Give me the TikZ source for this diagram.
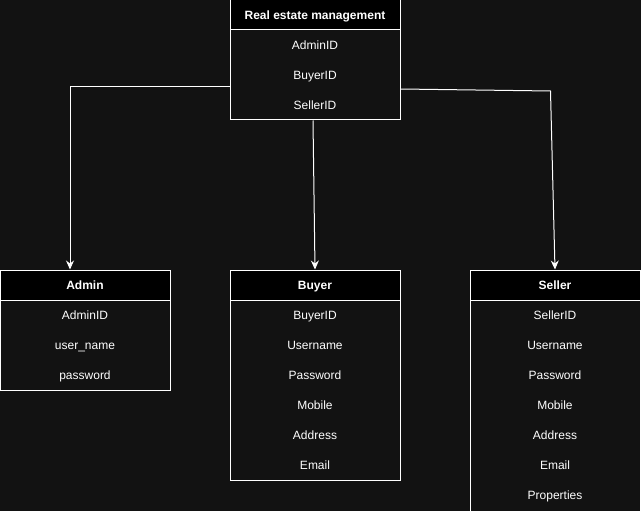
\documentclass[tikz,border=0pt]{standalone}
\usepackage{fontspec}
\setmainfont{Liberation Sans}
\usetikzlibrary{arrows.meta}
\definecolor{bg}{RGB}{18,18,18}
\tikzset{
  hdr/.style={draw=white, fill=black, text=white, font=\bfseries\fontsize{12}{14}\selectfont,
    minimum width=170pt, minimum height=30pt, inner sep=0pt, line width=1pt,
    text height=10pt, text depth=1pt},
  tbody/.style={draw=white, fill=bg, minimum width=170pt, inner sep=0pt, line width=1pt},
  fld/.style={text=white, font=\fontsize{12}{14}\selectfont, inner sep=0pt,
    text height=10pt, text depth=1pt},
  conn/.style={draw=white, line width=1pt, -{Stealth[length=9pt,width=8pt,inset=3pt]}}
}
\begin{document}
\begin{tikzpicture}[x=1pt,y=-1pt]
\clip (0,0) rectangle (641,511);
\fill[bg] (0,0) rectangle (641,511);
% Real estate management
\node[tbody, minimum height=90pt] (rembody) at (315,75) {};
\node[hdr] (rem) at (315,15) {Real estate management};
\node[fld] (rem1) at (315,45) {AdminID};
\node[fld] (rem2) at (315,75) {BuyerID};
\node[fld] (rem3) at (315,105) {SellerID};
% Admin
\node[tbody, minimum height=90pt] (adminbody) at (85,345) {};
\node[hdr] (admin) at (85,285) {Admin};
\node[fld] (ad1) at (85,315) {AdminID};
\node[fld] (ad2) at (85,345) {user\_name};
\node[fld] (ad3) at (85,375) {password};
% Buyer
\node[tbody, minimum height=180pt] (buyerbody) at (315,390) {};
\node[hdr] (buyer) at (315,285) {Buyer};
\node[fld] (b1) at (315,315) {BuyerID};
\node[fld] (b2) at (315,345) {Username};
\node[fld] (b3) at (315,375) {Password};
\node[fld] (b4) at (315,405) {Mobile};
\node[fld] (b5) at (315,435) {Address};
\node[fld] (b6) at (315,465) {Email};
% Seller
\node[tbody, minimum height=220pt] (sellerbody) at (555,410) {};
\node[hdr] (seller) at (555,285) {Seller};
\node[fld] (s1) at (555,315) {SellerID};
\node[fld] (s2) at (555,345) {Username};
\node[fld] (s3) at (555,375) {Password};
\node[fld] (s4) at (555,405) {Mobile};
\node[fld] (s5) at (555,435) {Address};
\node[fld] (s6) at (555,465) {Email};
\node[fld] (s7) at (555,495) {Properties};
% connectors
\draw[conn] ([yshift=-12pt]rembody.west) -| ([xshift=-15pt]admin.north);
\draw[conn] ([xshift=-2pt]rembody.south) -- (buyer.north);
\draw[conn] ([yshift=-14pt]rembody.east) -- ++(150,2) -- (seller.north);
\end{tikzpicture}
\end{document}
